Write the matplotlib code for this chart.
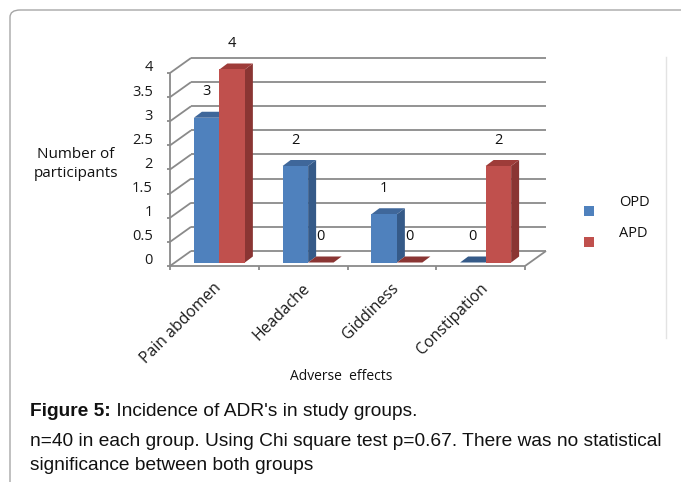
import matplotlib
matplotlib.use("Agg")
import matplotlib.pyplot as plt
from matplotlib.patches import Polygon, Rectangle, FancyBboxPatch
from matplotlib.lines import Line2D

# ---------------- data ----------------
categories = ["Pain abdomen", "Headache", "Giddiness", "Constipation"]
series_names = ["OPD", "APD"]
opd_values = [3, 2, 1, 0]
apd_values = [4, 0, 0, 2]
y_ticks = [0, 0.5, 1, 1.5, 2, 2.5, 3, 3.5, 4]
y_tick_labels = ["0", "0.5", "1", "1.5", "2", "2.5", "3", "3.5", "4"]
y_label = "Number of\nparticipants"
x_label = "Adverse  effects"
caption_bold = "Figure 5:"
caption_rest = " Incidence of ADR's in study groups."
caption_note = ["n=40 in each group. Using Chi square test p=0.67. There was no statistical",
                "significance between both groups"]

# ---------------- style ----------------
W, H = 681, 482
fig = plt.figure(figsize=(W / 100, H / 100), dpi=100)
fig.patch.set_facecolor("white")

CHART_FONT = ["Open Sans", "DejaVu Sans"]
CAP_FONT = ["Liberation Sans Narrow", "Liberation Sans", "DejaVu Sans"]

front = {"OPD": "#4F81BD", "APD": "#C0504D"}
side = {"OPD": "#355A88", "APD": "#8A3533"}
top = {"OPD": "#3F679A", "APD": "#9E3C39"}
grid_c = "#8A8A8A"

# outer rounded frame (extends beyond figure on right and bottom)
frame = FancyBboxPatch((10 / W, -0.2), 1.2, 1.2 - 10 / H,
                       boxstyle="round,pad=0,rounding_size=0.015",
                       transform=fig.transFigure, fill=False,
                       edgecolor="#A6A6A6", linewidth=1.0)
fig.patches.append(frame)
fig.add_artist(Line2D([666 / W, 666 / W], [1 - 57 / H, 1 - 338 / H],
                      transform=fig.transFigure, color="#E3E3E3", lw=1.0))

# axes: front plane of the 3-D box
px_x0, px_x1 = 170, 525
px_y0, px_y1 = 266, 73
ax = fig.add_axes([px_x0 / W, (H - px_y0) / H, (px_x1 - px_x0) / W, (px_y0 - px_y1) / H])
ax.set_xlim(0, len(categories))
ax.set_ylim(0, 4)
ax.axis("off")

ux = (px_x1 - px_x0) / len(categories)   # pixels per category
uy = (px_y0 - px_y1) / 4.0               # pixels per unit value
DX, DY = 21 / ux, 15 / uy                # full depth of box
offx, offy = 5 / ux, 3.5 / uy            # bar front-face depth offset
bdx, bdy = 8 / ux, 6 / uy                # bar depth
bw = 25.5 / ux                           # bar width

lw = 1.3
kw = dict(color=grid_c, lw=lw, clip_on=False, zorder=1, solid_capstyle="butt")
# left wall + back wall gridlines
for v in y_ticks:
    ax.plot([0, DX], [v, v + DY], **kw)
    ax.plot([DX, len(categories) + DX], [v + DY, v + DY], **kw)
    ax.plot([-3 / ux, 0], [v, v], **kw)
ax.plot([0, 0], [0, 4], **kw)
# floor
ax.plot([0, len(categories)], [0, 0], **kw)
ax.plot([len(categories), len(categories) + DX], [0, DY], **kw)
for i in range(len(categories) + 1):
    ax.plot([i, i], [0, -4 / uy], **kw)

# y tick labels
for v, lab in zip(y_ticks, y_tick_labels):
    ax.text(-17 / ux, v + 5 / uy, lab, ha="right", va="center", fontsize=10.5,
            family=CHART_FONT, color="#1A1A1A", clip_on=False)

# bars
z = 5
for i, cat in enumerate(categories):
    for j, (name, vals) in enumerate(zip(series_names, [opd_values, apd_values])):
        v = vals[i]
        x = i + 0.5 - bw + j * bw + offx
        b = offy
        # side face
        ax.add_patch(Polygon([(x + bw, b), (x + bw + bdx, b + bdy),
                              (x + bw + bdx, b + v + bdy), (x + bw, b + v)],
                             closed=True, facecolor=side[name], edgecolor="none",
                             zorder=z, clip_on=False))
        # top face
        ax.add_patch(Polygon([(x, b + v), (x + bw, b + v), (x + bw + bdx, b + v + bdy),
                              (x + bdx, b + v + bdy)],
                             closed=True, facecolor=top[name] if v > 0 else side[name],
                             edgecolor="none", zorder=z, clip_on=False))
        # front face
        ax.bar(x, v, width=bw, bottom=b, align="edge", color=front[name],
               edgecolor="none", zorder=z + 0.5, clip_on=False)
        # data label
        ax.text(x + bw / 2, b + v + 26 / uy, f"{v:g}", ha="center", va="center",
                fontsize=10.5, family=CHART_FONT, color="#111111", zorder=20,
                clip_on=False)
        z += 1

# category labels
for i, cat in enumerate(categories):
    ax.text(i + 0.5 - 1 / ux, -14 / uy, cat, rotation=45, rotation_mode="anchor",
            ha="right", va="top", fontsize=11.3, family=CHART_FONT, color="#1A1A1A",
            clip_on=False)

# axis titles
fig.text(76 / W, 1 - 164 / H, y_label, ha="center", va="center", fontsize=11,
         family=CHART_FONT, color="#111111", linespacing=1.45)
fig.text(341 / W, 1 - 377 / H, x_label, ha="center", va="center", fontsize=10,
         family=CHART_FONT, color="#111111")

# legend (manual, Excel style)
for k, name in enumerate(series_names):
    sy = 211 + 31 * k
    fig.patches.append(Rectangle(((589 - 5) / W, 1 - (sy + 5) / H), 10 / W, 10 / H,
                                 transform=fig.transFigure, facecolor=front[name],
                                 edgecolor="none"))
    fig.text(619 / W, 1 - (sy - 9) / H, name, ha="left", va="center", fontsize=10.5,
             family=CHART_FONT, color="#111111")

# caption
CAP_SIZE = 13.8
t1 = fig.text(30 / W, 1 - 412 / H, caption_bold, ha="left", va="center", fontsize=CAP_SIZE,
              family=CAP_FONT, weight="bold", color="#111111")
fig.canvas.draw()
bb = t1.get_window_extent(renderer=fig.canvas.get_renderer())
fig.text(bb.x1 / W, 1 - 412 / H, caption_rest, ha="left", va="center", fontsize=CAP_SIZE,
         family=CAP_FONT, color="#111111")
for k, line in enumerate(caption_note):
    fig.text(30 / W, 1 - (442 + 23 * k) / H, line, ha="left", va="center",
             fontsize=CAP_SIZE, family=CAP_FONT, color="#111111")

fig.savefig("out.png", dpi=100)
